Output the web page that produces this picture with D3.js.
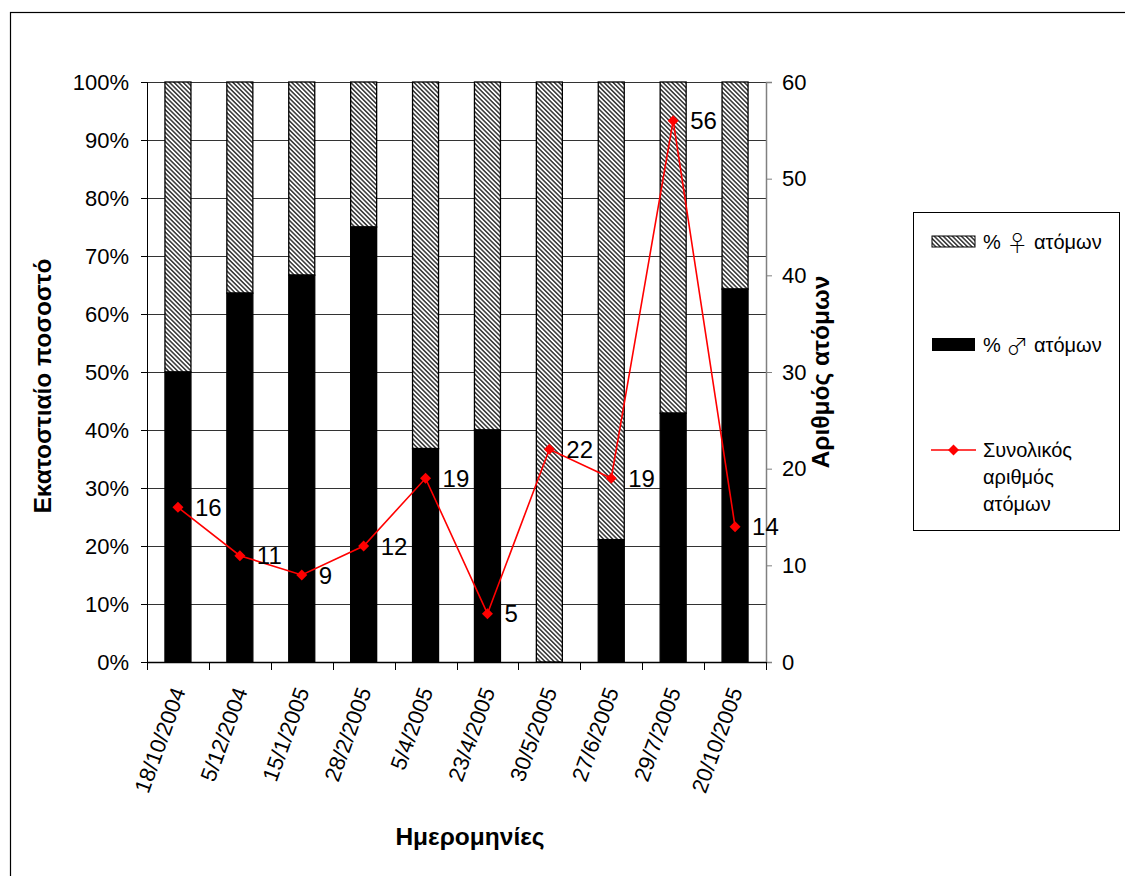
<!DOCTYPE html>
<html>
<head>
<meta charset="utf-8">
<script src="https://cdn.jsdelivr.net/npm/d3@7"></script>
<style>
  html, body { margin: 0; padding: 0; background: #fff; }
  svg { display: block; font-family: "Liberation Sans", Arial, "DejaVu Sans", sans-serif; }
</style>
</head>
<body>
<svg id="chart" width="1125" height="876"></svg>
<script>
// Sampling dates
const dates = ["18/10/2004", "5/12/2004", "15/1/2005", "28/2/2005", "5/4/2005",
               "23/4/2005", "30/5/2005", "27/6/2005", "29/7/2005", "20/10/2005"];
// Share of males (fraction of total individuals)
const malePct = [0.500, 0.636, 0.667, 0.750, 0.368, 0.400, 0.000, 0.211, 0.429, 0.643];
// Total individuals per date
const totals = [16, 11, 9, 12, 19, 5, 22, 19, 56, 14];
// Axis ticks
const pctTicks = [0, 0.1, 0.2, 0.3, 0.4, 0.5, 0.6, 0.7, 0.8, 0.9, 1.0];
const countTicks = [0, 10, 20, 30, 40, 50, 60];
// Legend entries: [prefix, symbol, suffix] for the two bar series, lines for the total
const legendFemale = ["% ", "\u2640", " ατόμων"];
const legendMale = ["% ", "\u2642", " ατόμων"];
const legendTotal = ["Συνολικός", "αριθμός", "ατόμων"];

const svg = d3.select("#chart");
const plot = { left: 147, right: 766, top: 82, bottom: 662 };

// Outer frame (extends past the visible page on the right and bottom)
svg.append("rect")
  .attr("x", 10.5).attr("y", 12.5).attr("width", 1300).attr("height", 1000)
  .attr("fill", "#fff").attr("stroke", "#000").attr("stroke-width", 1.2);

// Diagonal hatch for the female share
const defs = svg.append("defs");
const pat = defs.append("pattern")
  .attr("id", "hatch").attr("patternUnits", "userSpaceOnUse")
  .attr("width", 3.2).attr("height", 3.2)
  .attr("patternTransform", "rotate(-45)");
pat.append("rect").attr("width", 3.2).attr("height", 3.2).attr("fill", "#fff");
pat.append("line").attr("x1", 0.8).attr("y1", 0).attr("x2", 0.8).attr("y2", 3.2)
  .attr("stroke", "#333").attr("stroke-width", 1.5);

const x = d3.scaleBand().domain(dates).range([plot.left, plot.right]).paddingInner(0.58).paddingOuter(0.29);
const xOuter = d3.scaleBand().domain(dates).range([plot.left, plot.right]);
const yPct = d3.scaleLinear().domain([0, 1]).range([plot.bottom, plot.top]);
const yCnt = d3.scaleLinear().domain([0, 60]).range([plot.bottom, plot.top]);

// Horizontal gridlines
svg.append("g").selectAll("line").data(pctTicks.slice(1)).join("line")
  .attr("x1", plot.left).attr("x2", plot.right)
  .attr("y1", d => Math.round(yPct(d)) + 0.5).attr("y2", d => Math.round(yPct(d)) + 0.5)
  .attr("stroke", "#333").attr("stroke-width", 1);

// Stacked bars: males at the bottom, females on top
const bars = svg.append("g");
dates.forEach((d, i) => {
  const bx = x(d), bw = x.bandwidth();
  bars.append("rect")
    .attr("x", bx).attr("width", bw)
    .attr("y", yPct(1)).attr("height", yPct(malePct[i]) - yPct(1))
    .attr("fill", "url(#hatch)").attr("stroke", "#000").attr("stroke-width", 1.3);
  if (malePct[i] > 0) {
    bars.append("rect")
      .attr("x", bx).attr("width", bw)
      .attr("y", yPct(malePct[i])).attr("height", yPct(0) - yPct(malePct[i]))
      .attr("fill", "#000").attr("stroke", "#000").attr("stroke-width", 1.3);
  }
});

// Left axis (percent)
const axL = svg.append("g").attr("transform", `translate(${plot.left},0)`)
  .call(d3.axisLeft(yPct).tickValues(pctTicks).tickFormat(d3.format(".0%")).tickSize(6).tickPadding(12));
axL.select(".domain").attr("stroke", "#000");
axL.selectAll("line").attr("stroke", "#000");
axL.selectAll("text").attr("font-size", 22).attr("fill", "#000").attr("font-family", "Liberation Sans, Arial, sans-serif");

// Right axis (count)
const axR = svg.append("g").attr("transform", `translate(${plot.right},0)`)
  .call(d3.axisRight(yCnt).tickValues(countTicks).tickSize(6).tickPadding(10));
axR.select(".domain").attr("stroke", "#808080").attr("stroke-width", 1.5);
axR.selectAll("line").attr("stroke", "#808080");
axR.selectAll("text").attr("font-size", 22).attr("fill", "#000").attr("font-family", "Liberation Sans, Arial, sans-serif");

// Bottom axis with ticks between categories
const axB = svg.append("g").attr("transform", `translate(0,${plot.bottom})`);
axB.append("line").attr("x1", plot.left).attr("x2", plot.right).attr("y1", 0.5).attr("y2", 0.5)
  .attr("stroke", "#000").attr("stroke-width", 1.3);
const boundaries = dates.map(d => xOuter(d)).concat([plot.right]);
axB.selectAll("line.tk").data(boundaries).join("line").attr("class", "tk")
  .attr("x1", d => Math.round(d) + 0.5).attr("x2", d => Math.round(d) + 0.5)
  .attr("y1", 0).attr("y2", 8).attr("stroke", "#000");
axB.selectAll("text").data(dates).join("text")
  .attr("transform", d => `translate(${xOuter(d) + xOuter.bandwidth() / 2 + 8},${29}) rotate(-70)`)
  .attr("text-anchor", "end")
  .attr("font-size", 22).attr("fill", "#000")
  .text(d => d);

// Total count line with diamond markers
const line = d3.line().x((d, i) => x(dates[i]) + x.bandwidth() / 2).y(d => yCnt(d));
svg.append("path").datum(totals).attr("d", line)
  .attr("fill", "none").attr("stroke", "#ff0000").attr("stroke-width", 1.6);
const diamond = (cx, cy, r) => `M${cx},${cy - r}L${cx + r},${cy}L${cx},${cy + r}L${cx - r},${cy}Z`;
svg.append("g").selectAll("path").data(totals).join("path")
  .attr("d", (d, i) => diamond(x(dates[i]) + x.bandwidth() / 2, yCnt(d), 5.5))
  .attr("fill", "#ff0000");

// Value labels
svg.append("g").selectAll("text").data(totals).join("text")
  .attr("x", (d, i) => x(dates[i]) + x.bandwidth() / 2 + 17)
  .attr("y", d => yCnt(d))
  .attr("dy", "0.36em")
  .attr("font-size", 24).attr("fill", "#000")
  .text(d => d);

// Axis titles
svg.append("text")
  .attr("transform", `translate(51,386) rotate(-90)`)
  .attr("text-anchor", "middle").attr("font-size", 24.5).attr("font-weight", "bold")
  .text("Εκατοστιαίο ποσοστό");
svg.append("text")
  .attr("transform", `translate(829,372) rotate(-90)`)
  .attr("text-anchor", "middle").attr("font-size", 24.5).attr("font-weight", "bold")
  .text("Αριθμός ατόμων");
svg.append("text")
  .attr("x", 470).attr("y", 845)
  .attr("text-anchor", "middle").attr("font-size", 24.5).attr("font-weight", "bold")
  .text("Ημερομηνίες");

// Legend
const lg = svg.append("g");
lg.append("rect").attr("x", 913.5).attr("y", 212.5).attr("width", 206).attr("height", 318)
  .attr("fill", "#fff").attr("stroke", "#000").attr("stroke-width", 1);
lg.append("rect").attr("x", 932).attr("y", 236).attr("width", 43).attr("height", 11)
  .attr("fill", "url(#hatch)").attr("stroke", "#000").attr("stroke-width", 1);
lg.append("rect").attr("x", 932).attr("y", 338).attr("width", 43).attr("height", 13)
  .attr("fill", "#000");
lg.append("line").attr("x1", 931).attr("x2", 976).attr("y1", 450).attr("y2", 450)
  .attr("stroke", "#ff0000").attr("stroke-width", 1.6);
lg.append("path").attr("d", diamond(953.5, 450, 5.5)).attr("fill", "#ff0000");

function symbolLabel(y, parts) {
  const t = lg.append("text").attr("x", 983).attr("y", y).attr("dy", "0.36em").attr("font-size", 20);
  t.append("tspan").text(parts[0]);
  t.append("tspan").style("font-family", "'Noto Sans CJK JP'").style("font-weight", "300").style("font-size", "22px")
    .attr("dy", "0.1em").text(parts[1]);
  t.append("tspan").attr("dy", "-0.1em").text(parts[2]);
}
symbolLabel(242, legendFemale);
symbolLabel(345, legendMale);
legendTotal.forEach((t, k) => {
  lg.append("text").attr("x", 983).attr("y", 450 + k * 27).attr("dy", "0.36em").attr("font-size", 20)
    .text(t);
});
</script>
</body>
</html>
